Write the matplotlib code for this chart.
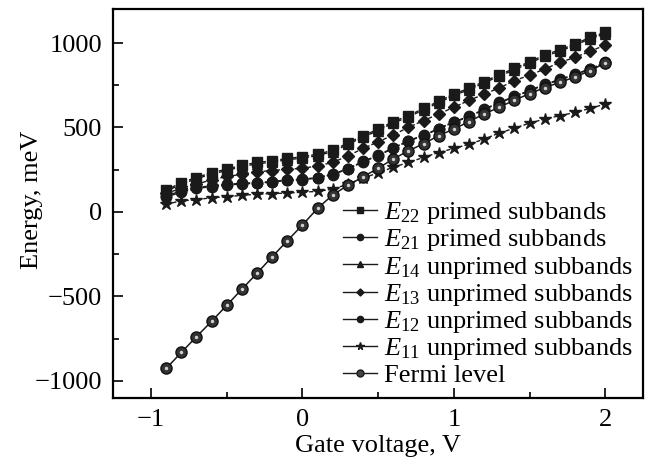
import numpy as np
import matplotlib
matplotlib.use('Agg')
import matplotlib.pyplot as plt
from matplotlib.lines import Line2D
from matplotlib.ticker import MultipleLocator

plt.rcParams['font.family'] = 'Liberation Serif'
plt.rcParams['mathtext.fontset'] = 'custom'
plt.rcParams['mathtext.rm'] = 'Liberation Serif'
plt.rcParams['mathtext.it'] = 'Liberation Serif:italic'

# gate voltage, V
gate_v = np.round(np.arange(-0.9, 2.001, 0.1), 2)

# energies, meV
e22 = [129, 174, 204, 233, 253, 277, 293, 303, 317, 327, 342, 365, 408, 451, 490,
       535, 570, 613, 655, 698, 732, 772, 812, 850, 889, 929, 960, 994, 1034, 1063]
e14 = [121, 166, 196, 225, 245, 269, 285, 295, 309, 319, 334, 357, 400, 443, 482,
       527, 562, 605, 647, 690, 724, 764, 804, 842, 881, 921, 952, 986, 1026, 1055]
e13 = [110, 140, 165, 190, 210, 223, 238, 245, 253, 258, 273, 293, 332, 376, 415,
       456, 501, 541, 580, 620, 660, 698, 734, 777, 810, 846, 885, 915, 951, 988]
e21 = [95, 125, 145, 155, 164, 170, 174, 180, 190, 194, 204, 224, 257, 299, 336,
       380, 422, 455, 494, 534, 566, 609, 648, 685, 720, 755, 785, 815, 848, 885]
e12 = [88, 118, 139, 150, 159, 166, 171, 177, 187, 191, 201, 221, 254, 296, 333,
       377, 419, 452, 491, 531, 563, 606, 645, 682, 717, 752, 782, 812, 845, 882]
e11 = [46, 66, 72, 85, 89, 99, 105, 109, 112, 117, 122, 135, 165, 200, 232,
       265, 293, 323, 352, 376, 401, 431, 468, 495, 526, 550, 570, 589, 613, 639]
fermi = [-926, -831, -738, -647, -552, -457, -362, -265, -170, -77, 22, 101, 158, 208, 259,
         314, 362, 404, 452, 491, 535, 580, 620, 662, 700, 736, 767, 799, 836, 882]

labels = [r'$E_{22}$ primed subbands', r'$E_{21}$ primed subbands',
          r'$E_{14}$ unprimed subbands', r'$E_{13}$ unprimed subbands',
          r'$E_{12}$ unprimed subbands', r'$E_{11}$ unprimed subbands',
          'Fermi level']

fig = plt.figure(figsize=(6.47, 4.61), dpi=100)
ax = fig.add_axes([0.175, 0.137, 0.819, 0.843])

dash = (0, (3, 1.5))
series = [(e22, 's', 6.5), (e21, 'o', 7.5), (e14, '^', 6.5), (e13, 'D', 6),
          (e12, 'o', 7.5), (e11, '*', 9)]
for y, m, ms in series:
    ax.plot(gate_v, y, color='#1a1a1a', ls=dash, lw=1.0, marker=m, ms=ms,
            mfc='#1a1a1a', mec='#1a1a1a')
# Fermi level: shaded spheres
ax.plot(gate_v, fermi, color='#1a1a1a', lw=1.1, marker='o', ms=8,
        mfc='#333333', mec='#111111')
ax.plot(gate_v, fermi, ls='none', marker='o', ms=2.5, mfc='#d0d0d0', mec='none')

handles = []
for _, m, ms in series:
    handles.append(Line2D([], [], color='#1a1a1a', lw=1.0, marker=m, ms=ms * 0.6))
handles.append(Line2D([], [], color='#1a1a1a', lw=1.0, marker='o', ms=5,
                      mfc='#444444'))
ax.legend(handles, labels, loc='lower right', bbox_to_anchor=(1.0, 0.0),
          frameon=False, fontsize=19, handlelength=1.3, handletextpad=0.25,
          labelspacing=0.05, borderaxespad=0.2, borderpad=0.2)

ax.set_xlim(-1.25, 2.25)
ax.set_ylim(-1100, 1200)
ax.xaxis.set_major_locator(MultipleLocator(1))
ax.xaxis.set_minor_locator(MultipleLocator(0.5))
ax.yaxis.set_major_locator(MultipleLocator(500))
ax.yaxis.set_minor_locator(MultipleLocator(250))
ax.tick_params(which='both', direction='in', top=False, right=False,
               labelsize=19, width=1.2)
ax.tick_params(axis='x', which='major', length=7, pad=8)
ax.tick_params(axis='y', which='major', length=7, pad=8)
ax.tick_params(which='minor', length=4)
for s in ax.spines.values():
    s.set_linewidth(1.6)

ax.set_xlabel('Gate voltage, V', fontsize=19, labelpad=3)
ax.set_ylabel('Energy, meV', fontsize=19)
ax.yaxis.set_label_coords(-0.132, 0.51)

fig.savefig('out.png', dpi=100)
